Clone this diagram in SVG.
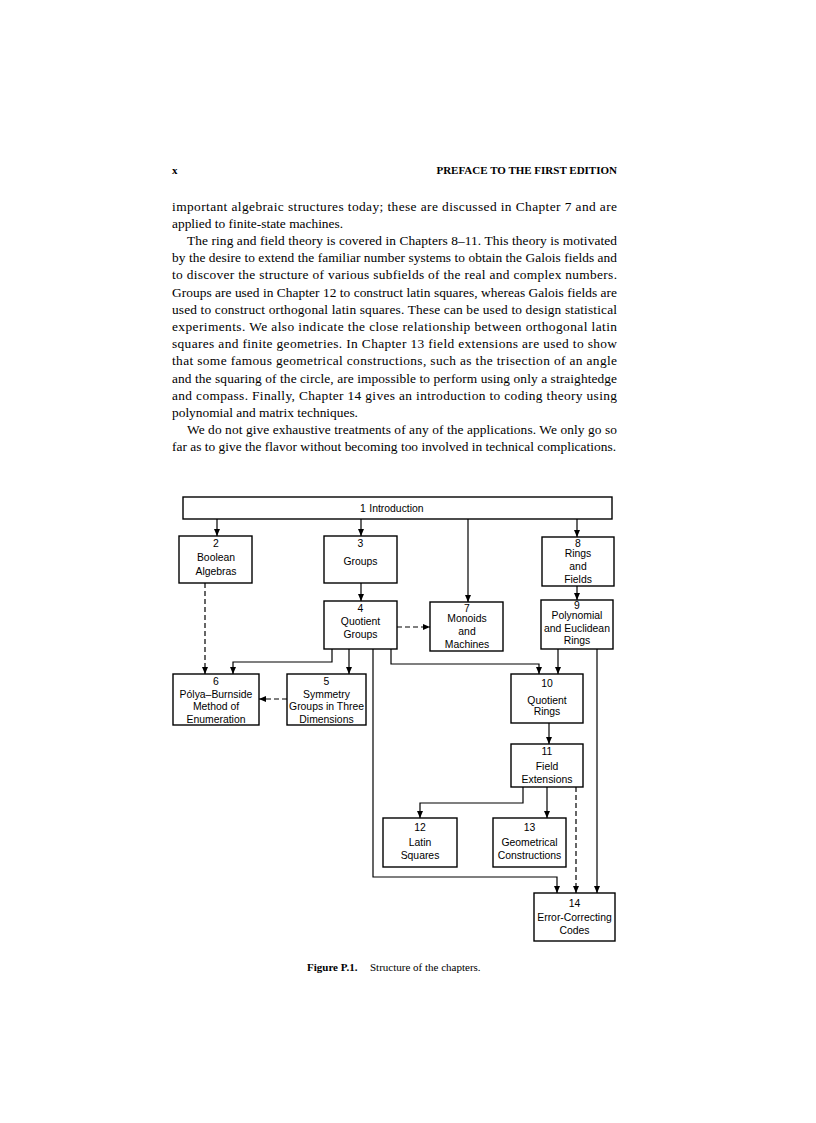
<svg xmlns="http://www.w3.org/2000/svg" width="816" height="1123" viewBox="0 0 816 1123">
<defs>
<style>
.body{font-family:"Liberation Serif","Times New Roman",serif;font-size:13.4px;fill:#000}
.hdr{font-family:"Liberation Serif","Times New Roman",serif;font-size:11px;font-weight:bold;fill:#000}
.cap{font-family:"Liberation Serif","Times New Roman",serif;font-size:11px;fill:#000}
.box{fill:#fff;stroke:#000;stroke-width:1.4}
.lbl{font-family:"Liberation Sans",Arial,sans-serif;font-size:10.4px;fill:#000;text-anchor:middle}
.ln{fill:none;stroke:#000;stroke-width:1.2}
.dash{stroke-dasharray:5 3}
</style>
<marker id="ah" markerUnits="userSpaceOnUse" markerWidth="7" markerHeight="6" refX="7" refY="3" orient="auto">
<path d="M0,0 L7,3 L0,6 z" fill="#000"/>
</marker>
</defs>
<rect width="816" height="1123" fill="#fff"/>

<g id="page-text">
<text class="hdr" x="172" y="174">x</text>
<text class="hdr" x="617" y="174" text-anchor="end">PREFACE TO THE FIRST EDITION</text>
<g transform="translate(0,2.5)">
<text class="body" x="172" y="208" textLength="445" lengthAdjust="spacing">important algebraic structures today; these are discussed in Chapter 7 and are</text>
<text class="body" x="172" y="225.2">applied to finite-state machines.</text>
<text class="body" x="187" y="242.4" textLength="430" lengthAdjust="spacing">The ring and field theory is covered in Chapters 8–11. This theory is motivated</text>
<text class="body" x="172" y="259.6" textLength="445" lengthAdjust="spacing">by the desire to extend the familiar number systems to obtain the Galois fields and</text>
<text class="body" x="172" y="276.8" textLength="445" lengthAdjust="spacing">to discover the structure of various subfields of the real and complex numbers.</text>
<text class="body" x="172" y="294" textLength="445" lengthAdjust="spacing">Groups are used in Chapter 12 to construct latin squares, whereas Galois fields are</text>
<text class="body" x="172" y="311.2" textLength="445" lengthAdjust="spacing">used to construct orthogonal latin squares. These can be used to design statistical</text>
<text class="body" x="172" y="328.4" textLength="445" lengthAdjust="spacing">experiments. We also indicate the close relationship between orthogonal latin</text>
<text class="body" x="172" y="345.6" textLength="445" lengthAdjust="spacing">squares and finite geometries. In Chapter 13 field extensions are used to show</text>
<text class="body" x="172" y="362.8" textLength="445" lengthAdjust="spacing">that some famous geometrical constructions, such as the trisection of an angle</text>
<text class="body" x="172" y="380" textLength="445" lengthAdjust="spacing">and the squaring of the circle, are impossible to perform using only a straightedge</text>
<text class="body" x="172" y="397.2" textLength="445" lengthAdjust="spacing">and compass. Finally, Chapter 14 gives an introduction to coding theory using</text>
<text class="body" x="172" y="414.4">polynomial and matrix techniques.</text>
<text class="body" x="187" y="431.6" textLength="430" lengthAdjust="spacing">We do not give exhaustive treatments of any of the applications. We only go so</text>
<text class="body" x="172" y="448.8" textLength="444" lengthAdjust="spacing">far as to give the flavor without becoming too involved in technical complications.</text>
</g>
<text class="cap" x="307" y="971"><tspan font-weight="bold">Figure P.1.</tspan><tspan x="370">Structure of the chapters.</tspan></text>
</g>

<g id="connectors">
<line class="ln" x1="217" y1="519" x2="217" y2="536" marker-end="url(#ah)"/>
<line class="ln" x1="361" y1="519" x2="361" y2="536" marker-end="url(#ah)"/>
<line class="ln" x1="468" y1="519" x2="468" y2="602" marker-end="url(#ah)"/>
<line class="ln" x1="577" y1="519" x2="577" y2="537" marker-end="url(#ah)"/>
<line class="ln" x1="361" y1="583" x2="361" y2="601" marker-end="url(#ah)"/>
<line class="ln" x1="577" y1="586" x2="577" y2="600" marker-end="url(#ah)"/>
<line class="ln dash" x1="397" y1="627" x2="430" y2="627" marker-end="url(#ah)"/>
<line class="ln dash" x1="205" y1="583" x2="205" y2="674" marker-end="url(#ah)"/>
<path class="ln" d="M332,649 V662 H233 V674" marker-end="url(#ah)"/>
<line class="ln" x1="349" y1="649" x2="349" y2="674" marker-end="url(#ah)"/>
<path class="ln" d="M391,649 V664 H539 V674" marker-end="url(#ah)"/>
<line class="ln" x1="558" y1="649" x2="558" y2="674" marker-end="url(#ah)"/>
<line class="ln dash" x1="287" y1="699" x2="259" y2="699" marker-end="url(#ah)"/>
<line class="ln" x1="549" y1="723" x2="549" y2="744" marker-end="url(#ah)"/>
<path class="ln" d="M523,787 V803 H420 V818" marker-end="url(#ah)"/>
<line class="ln" x1="547" y1="787" x2="547" y2="818" marker-end="url(#ah)"/>
<path class="ln" d="M373,649 V877 H557 V893" marker-end="url(#ah)"/>
<line class="ln dash" x1="576" y1="787" x2="576" y2="893" marker-end="url(#ah)"/>
<line class="ln" x1="597" y1="649" x2="597" y2="893" marker-end="url(#ah)"/>
</g>

<g id="n1">
<rect class="box" x="183" y="497" width="429" height="22"/>
<text class="lbl" x="360" y="511.5" style="text-anchor:start">1<tspan dx="3.5">Introduction</tspan></text>
</g>
<g id="n2">
<rect class="box" x="179" y="536" width="73" height="47"/>
<text class="lbl" x="216" y="547">2</text>
<text class="lbl" x="216" y="561">Boolean</text>
<text class="lbl" x="216" y="574.5">Algebras</text>
</g>
<g id="n3">
<rect class="box" x="324" y="536" width="73" height="47"/>
<text class="lbl" x="360.5" y="547">3</text>
<text class="lbl" x="360.5" y="564.5">Groups</text>
</g>
<g id="n8">
<rect class="box" x="542" y="537" width="72" height="49"/>
<text class="lbl" x="578" y="547">8</text>
<text class="lbl" x="578" y="557">Rings</text>
<text class="lbl" x="578" y="570">and</text>
<text class="lbl" x="578" y="583">Fields</text>
</g>
<g id="n4">
<rect class="box" x="324" y="601" width="73" height="48"/>
<text class="lbl" x="360.5" y="612">4</text>
<text class="lbl" x="360.5" y="625">Quotient</text>
<text class="lbl" x="360.5" y="637.5">Groups</text>
</g>
<g id="n7">
<rect class="box" x="430" y="602" width="73" height="49"/>
<text class="lbl" x="467" y="612">7</text>
<text class="lbl" x="467" y="622">Monoids</text>
<text class="lbl" x="467" y="635">and</text>
<text class="lbl" x="467" y="648">Machines</text>
</g>
<g id="n9">
<rect class="box" x="541" y="600" width="72" height="49"/>
<text class="lbl" x="577" y="608.5">9</text>
<text class="lbl" x="577" y="619">Polynomial</text>
<text class="lbl" x="577" y="632">and Euclidean</text>
<text class="lbl" x="577" y="644">Rings</text>
</g>
<g id="n6">
<rect class="box" x="173" y="674" width="86" height="51"/>
<text class="lbl" x="216" y="684.5">6</text>
<text class="lbl" x="216" y="697.5">Pólya–Burnside</text>
<text class="lbl" x="216" y="710">Method of</text>
<text class="lbl" x="216" y="722.5">Enumeration</text>
</g>
<g id="n5">
<rect class="box" x="287" y="674" width="79" height="51"/>
<text class="lbl" x="326.5" y="684.5">5</text>
<text class="lbl" x="326.5" y="697.5">Symmetry</text>
<text class="lbl" x="326.5" y="710">Groups in Three</text>
<text class="lbl" x="326.5" y="722.5">Dimensions</text>
</g>
<g id="n10">
<rect class="box" x="511" y="674" width="72" height="49"/>
<text class="lbl" x="547" y="687">10</text>
<text class="lbl" x="547" y="703.5">Quotient</text>
<text class="lbl" x="547" y="715">Rings</text>
</g>
<g id="n11">
<rect class="box" x="511" y="744" width="72" height="43"/>
<text class="lbl" x="547" y="755">11</text>
<text class="lbl" x="547" y="770">Field</text>
<text class="lbl" x="547" y="782.5">Extensions</text>
</g>
<g id="n12">
<rect class="box" x="383" y="818" width="74" height="49"/>
<text class="lbl" x="420" y="831">12</text>
<text class="lbl" x="420" y="846">Latin</text>
<text class="lbl" x="420" y="858.5">Squares</text>
</g>
<g id="n13">
<rect class="box" x="493" y="818" width="73" height="49"/>
<text class="lbl" x="529.5" y="831">13</text>
<text class="lbl" x="529.5" y="846">Geometrical</text>
<text class="lbl" x="529.5" y="858.5">Constructions</text>
</g>
<g id="n14">
<rect class="box" x="534" y="893" width="81" height="48"/>
<text class="lbl" x="574.5" y="907">14</text>
<text class="lbl" x="574.5" y="921">Error-Correcting</text>
<text class="lbl" x="574.5" y="933.5">Codes</text>
</g>
</svg>
